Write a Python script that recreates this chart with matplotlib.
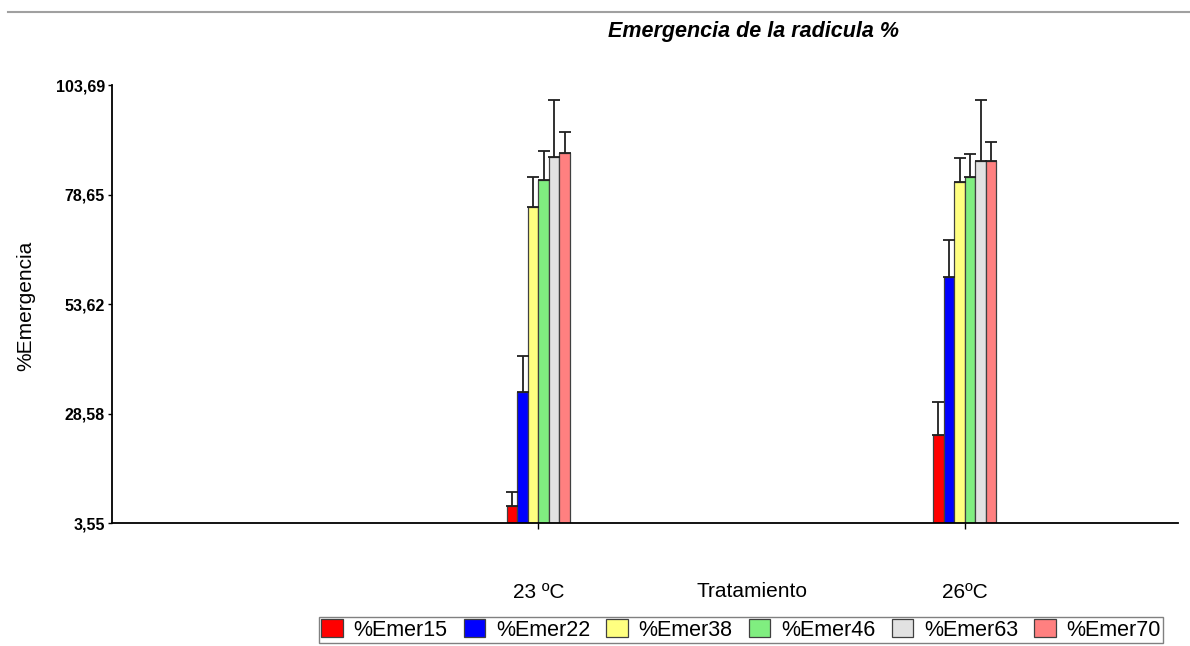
import matplotlib
matplotlib.use("Agg")
import matplotlib.pyplot as plt
import numpy as np
from matplotlib.lines import Line2D

plt.rcParams['font.family'] = ['Liberation Sans', 'DejaVu Sans']

categories = ["23 ºC", "26ºC"]
series = ["%Emer15", "%Emer22", "%Emer38", "%Emer46", "%Emer63", "%Emer70"]
values_23 = [7.4, 33.4, 75.8, 81.9, 87.2, 88.1]
values_26 = [23.6, 59.9, 81.5, 82.6, 86.2, 86.2]
errors_23 = [3.3, 8.4, 6.9, 6.6, 13.1, 4.8]
errors_26 = [7.5, 8.4, 5.4, 5.4, 14.1, 4.4]
colors = ["#ff0000", "#0000ff", "#ffff80", "#80ee80", "#e2e2e2", "#ff8080"]
yticks = [3.55, 28.58, 53.62, 78.65, 103.69]
ytick_labels = ["3,55", "28,58", "53,62", "78,65", "103,69"]

W, H = 1190, 646
fig = plt.figure(figsize=(W/100, H/100), dpi=100)
ax_l, ax_r, ax_b, ax_t = 112, 1178, 523, 85
ax = fig.add_axes([ax_l/W, 1-ax_b/H, (ax_r-ax_l)/W, (ax_b-ax_t)/H])

x = np.arange(len(categories))
w = 0.0247
vals = np.array([values_23, values_26])
errs = np.array([errors_23, errors_26])
for i, s in enumerate(series):
    pos = x + (i - 2.5) * w
    ax.bar(pos, vals[:, i], width=w, color=colors[i], edgecolor="#404040",
           linewidth=0.9, label=s, zorder=2)
    ax.errorbar(pos, vals[:, i], yerr=[np.zeros(len(x)), errs[:, i]], fmt='none',
                ecolor="#202020", elinewidth=1.3, capsize=4, capthick=1.3, zorder=3)

ax.set_ylim(3.55, 103.69)
ax.set_xlim(-1.0, 1.5)
ax.set_yticks(yticks)
ax.set_yticklabels(ytick_labels, fontsize=11.5, fontweight='bold')
ax.set_xticks(x)
ax.set_xticklabels(categories, fontsize=15)
ax.tick_params(axis='x', length=4, pad=39, width=1)
ax.tick_params(axis='y', length=3, pad=2, width=1)
for sp in ['top', 'right']:
    ax.spines[sp].set_visible(False)
ax.spines['left'].set_linewidth(1.3)
ax.spines['bottom'].set_linewidth(1.3)

ax.set_xlabel("Tratamiento", fontsize=15)
ax.xaxis.set_label_coords((752-ax_l)/(ax_r-ax_l), (ax_b-582)/(ax_b-ax_t))

fig.text(753/W, 1-32/H, "Emergencia de la radicula %", ha='center', va='center',
         fontsize=15.5, fontweight='bold', fontstyle='italic')
fig.text(26/W, 1-306/H, "%Emergencia", ha='center', va='center', rotation=90,
         fontsize=15)

fig.add_artist(Line2D([8/W, 1.0], [1-12/H, 1-12/H], color="#a0a0a0", linewidth=1.5))

leg = fig.legend(loc='center', bbox_to_anchor=(741/W, 1-630/H), ncol=6,
                 fontsize=15.5, frameon=True, fancybox=False, edgecolor="#606060",
                 handlelength=1.0, handleheight=0.9, handletextpad=0.5, columnspacing=0.75,
                 borderpad=0.12, borderaxespad=0)
leg.get_frame().set_linewidth(1.0)

fig.savefig("out.png", dpi=100)
